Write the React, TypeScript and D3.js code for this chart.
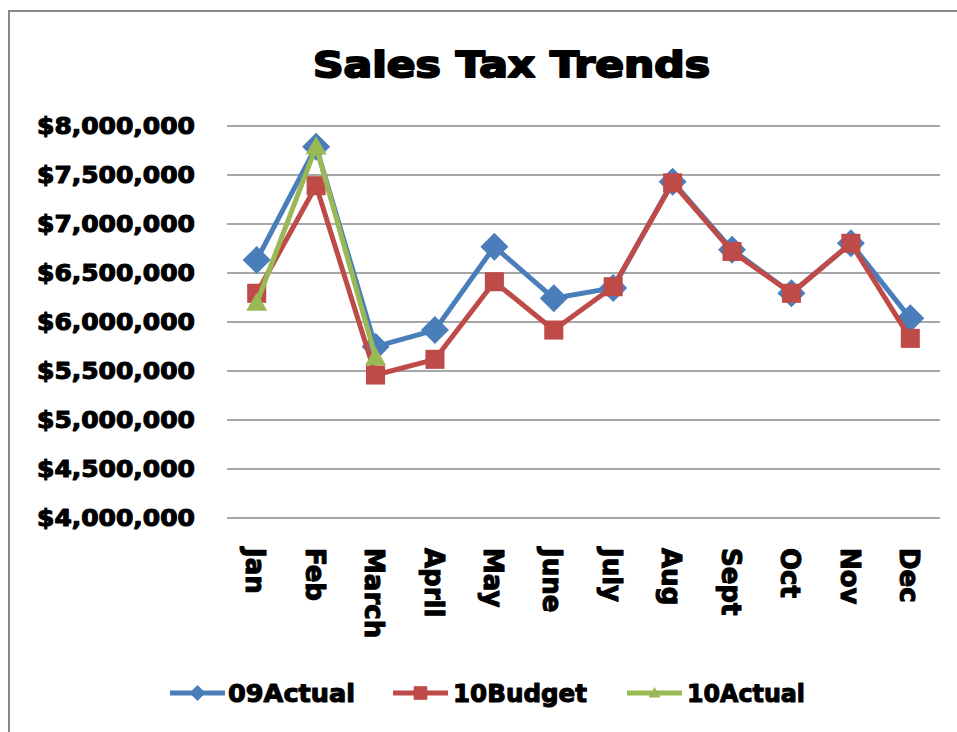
import React from "react";
import * as d3 from "d3";

const months = ["Jan", "Feb", "March", "April", "May", "June", "July", "Aug", "Sept", "Oct", "Nov", "Dec"];
const actual09 = [6633000, 7789000, 5748000, 5918000, 6769000, 6242000, 6348000, 7432000, 6738000, 6293000, 6803000, 6037000];
const budget10 = [6293000, 7391000, 5459000, 5619000, 6411000, 5918000, 6360000, 7420000, 6720000, 6293000, 6803000, 5833000];
const actual10 = [6194000, 7789000, 5640000];
const yTicks = [4000000, 4500000, 5000000, 5500000, 6000000, 6500000, 7000000, 7500000, 8000000];
const seriesNames = ["09Actual", "10Budget", "10Actual"];
const colors = ["#4A7EBB", "#BE4B48", "#98B954"];

const W = 957;
const H = 732;
const FONT = "'DejaVu Sans', sans-serif";

function marker(kind: number, cx: number, cy: number, s: number, color: string, key?: string) {
  if (kind === 0) {
    const h = s;
    const d = `M${cx},${cy - h}L${cx + h},${cy}L${cx},${cy + h}L${cx - h},${cy}Z`;
    return <path key={key} d={d} fill={color} />;
  }
  if (kind === 1) {
    const h = s * 0.68;
    return <rect key={key} x={cx - h} y={cy - h} width={2 * h} height={2 * h} fill={color} />;
  }
  const w = s * 0.75;
  const d = `M${cx},${cy - w * 1.0}L${cx + w},${cy + w * 0.75}L${cx - w},${cy + w * 0.75}Z`;
  return <path key={key} d={d} fill={color} />;
}

export default function App() {
  const x = d3.scaleBand<string>().domain(months).range([227, 940]);
  const y = d3.scaleLinear().domain([4000000, 8000000]).range([518, 126]);
  const cx = (m: string) => (x(m) as number) + x.bandwidth() / 2;
  const fmt = (v: number) => "$" + d3.format(",")(v);

  const data = [actual09, budget10, actual10];
  const line = d3
    .line<number>()
    .x((_, i) => cx(months[i]))
    .y((v) => y(v));

  const legendItems = [
    { lineX: 170, textX: 228, textLen: 127 },
    { lineX: 393, textX: 453, textLen: 134 },
    { lineX: 627, textX: 687, textLen: 118 },
  ];

  const heavy = { stroke: "#000", strokeWidth: 1.1, strokeLinejoin: "round" as const };

  return (
    <svg
      width={W}
      height={H}
      style={{ position: "absolute", left: 0, top: 0, background: "#fff" }}
      fontFamily={FONT}
    >
      <rect x={0} y={0} width={W} height={H} fill="#fff" />
      <path d={`M9,${H}L9,11L${W},11`} fill="none" stroke="#878787" strokeWidth={2} />

      <text
        x={313}
        y={77}
        fontSize={36}
        fontWeight="bold"
        textLength={397}
        lengthAdjust="spacingAndGlyphs"
        stroke="#000"
        strokeWidth={2}
        strokeLinejoin="round"
      >
        Sales Tax Trends
      </text>

      {yTicks.map((t) => (
        <g key={t}>
          <line x1={227} x2={940} y1={y(t)} y2={y(t)} stroke="#8a8a8a" strokeWidth={1.5} />
          <text
            x={195}
            y={y(t)}
            dy="0.36em"
            textAnchor="end"
            fontSize={23}
            fontWeight="bold"
            textLength={158}
            lengthAdjust="spacingAndGlyphs"
            {...heavy}
          >
            {fmt(t)}
          </text>
        </g>
      ))}

      {months.map((m) => (
        <text
          key={m}
          transform={`translate(${cx(m) - 1},548) rotate(90)`}
          dy="0.36em"
          fontSize={26}
          fontWeight="bold"
          {...heavy}
        >
          {m}
        </text>
      ))}

      {data.map((vals, si) => (
        <g key={si}>
          <path
            d={line(vals) as string}
            fill="none"
            stroke={colors[si]}
            strokeWidth={5}
            strokeLinejoin="round"
            strokeLinecap="round"
          />
          {vals.map((v, i) => marker(si, cx(months[i]), y(v), 14, colors[si], `${si}-${i}`))}
        </g>
      ))}

      {seriesNames.map((n, i) => {
        const it = legendItems[i];
        return (
          <g key={n}>
            <line x1={it.lineX} x2={it.lineX + 55} y1={693} y2={693} stroke={colors[i]} strokeWidth={5} />
            {marker(i, it.lineX + 27.5, 693, i === 1 ? 10 : 8, colors[i])}
            <text
              x={it.textX}
              y={702}
              fontSize={25}
              fontWeight="bold"
              textLength={it.textLen}
              lengthAdjust="spacingAndGlyphs"
              {...heavy}
            >
              {n}
            </text>
          </g>
        );
      })}
    </svg>
  );
}
